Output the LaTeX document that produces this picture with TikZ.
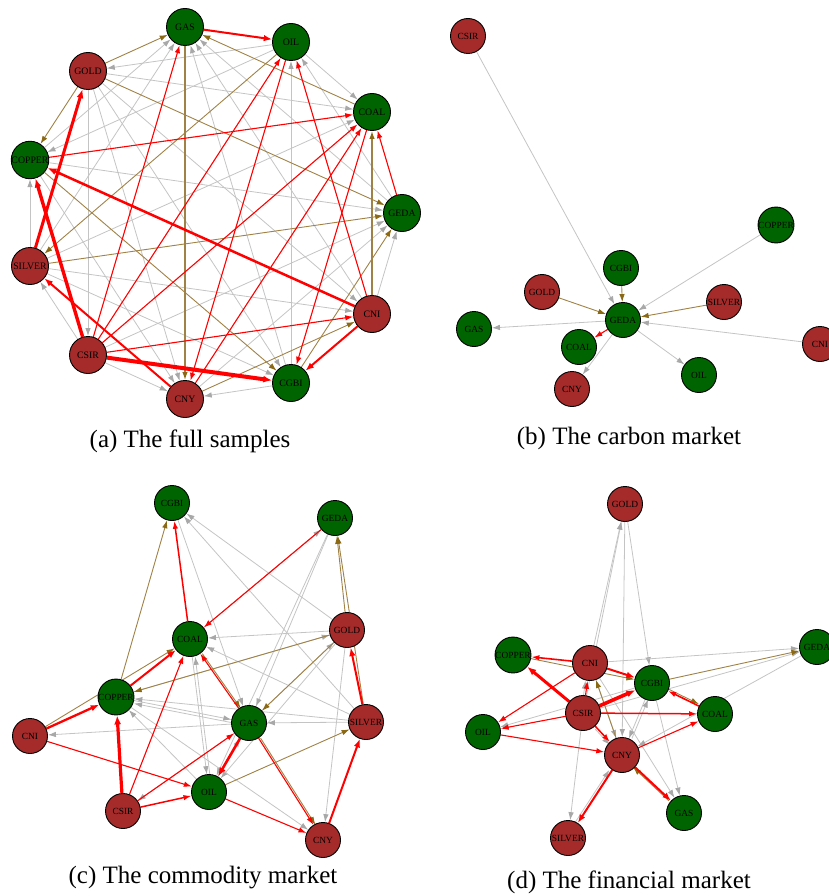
\documentclass[tikz,border=0pt]{standalone}
\usepackage{fontspec}
\setmainfont{Liberation Serif}
\usetikzlibrary{arrows.meta}
\definecolor{nred}{RGB}{165,42,42}
\definecolor{ngreen}{RGB}{0,100,0}
\definecolor{egray}{RGB}{196,196,196}
\definecolor{tgray}{RGB}{168,168,168}
\definecolor{ebrown}{RGB}{160,130,70}
\definecolor{tbrown}{RGB}{139,105,20}
\definecolor{ered}{RGB}{255,0,0}
\pgfdeclarelayer{lgray}
\pgfdeclarelayer{lbrown}
\pgfdeclarelayer{lred}
\pgfsetlayers{lgray,lbrown,lred,main}
\begin{document}
\begin{tikzpicture}[x=1pt,y=-1pt,
 nd/.style={circle,draw=black,line width=0.9pt,minimum size=35pt,inner sep=0pt,font=\fontsize{9.4}{10}\selectfont},
 rn/.style={nd,fill=nred},
 gn/.style={nd,fill=ngreen},
 big/.style={minimum size=37pt,font=\fontsize{9.8}{10}\selectfont},
 ge/.style={draw=egray,line width=0.8pt,-{Latex[length=8pt,width=5.5pt,color=tgray]}},
 be/.style={draw=ebrown,line width=0.9pt,-{Latex[length=8pt,width=5.5pt,color=tbrown]}},
 re/.style={draw=ered,line width=1.1pt,-{Latex[length=8pt,width=5.5pt]}},
 rm/.style={draw=ered,line width=2pt,-{Latex[length=8.5pt,width=6.5pt]}},
 rt/.style={draw=ered,line width=3pt,-{Latex[length=9pt,width=7pt]}},
 captxt/.style={font=\fontsize{25}{30}\selectfont,inner sep=0pt}
]
\useasboundingbox (0,0) rectangle (829,896);

% ---------------- panel (a)
\foreach \n/\x/\y/\c in {GAS/185/27/gn, OIL/291/42/gn, COAL/372/112/gn, GEDA/402/213/gn, CNI/372/314/rn, CGBI/291/383/gn, CNY/185/399/rn, CSIR/88/355/rn, SILVER/30/266/rn, COPPER/30/160/gn, GOLD/88/71/rn}
  \node[\c,big] (a\n) at (\x,\y) {\n};
\begin{pgfonlayer}{lgray}
\foreach \s/\t in {GEDA/GAS, CNI/GAS, CGBI/GAS, SILVER/GAS, COPPER/GAS, OIL/COAL, GEDA/OIL, CGBI/OIL, OIL/COPPER, OIL/GOLD, SILVER/COAL, GOLD/COAL, CNI/GEDA, CNY/GEDA, CSIR/GEDA, COPPER/GEDA, SILVER/CNI, GOLD/CNI, CGBI/CNY, SILVER/CGBI, GOLD/CGBI, CSIR/CNY, COPPER/CNY, GOLD/CNY, CSIR/SILVER, GOLD/CSIR, SILVER/COPPER}
  \draw[ge] (a\s) -- (a\t);
\end{pgfonlayer}
\begin{pgfonlayer}{lbrown}
\foreach \s/\t in {GOLD/GAS, COAL/GAS, GOLD/COPPER, OIL/SILVER, GOLD/GEDA, SILVER/GEDA, COPPER/CGBI, CGBI/GEDA, CNY/CNI}
  \draw[be] (a\s) -- (a\t);
\draw[be,line width=1.3pt] (aGAS) -- (aCNY);
\draw[be,line width=1.3pt] (aCNI) -- (aCOAL);
\end{pgfonlayer}
\begin{pgfonlayer}{lred}
\foreach \s/\t in {CSIR/GAS, CSIR/OIL, CSIR/COAL, CNY/COAL, COAL/CGBI, OIL/CNY, CNI/OIL, GEDA/COAL, COPPER/COAL, CSIR/CNI}
  \draw[re] (a\s) -- (a\t);
\foreach \s/\t in {GAS/OIL, CNY/SILVER, CNI/CGBI}
  \draw[rm] (a\s) -- (a\t);
\draw[rt,line width=2.5pt] (aCNI) -- (aCOPPER);
\draw[rt] (aSILVER) -- (aGOLD);
\draw[rt,line width=3.4pt] (aCSIR) -- (aCOPPER);
\draw[rt,line width=4pt] (aCSIR) -- (aCGBI);
\end{pgfonlayer}
\node[captxt] (capa) at (190,441) {(a) The full samples};

% ---------------- panel (b)
\foreach \n/\x/\y/\c in {CSIR/468/36/rn, COPPER/776/225/gn, CGBI/621/268/gn, GOLD/542/292/rn, SILVER/724/302/rn, GEDA/623/320/gn, GAS/474/329/gn, COAL/579/347/gn, CNI/820/344/rn, OIL/699/375/gn, CNY/572/389/rn}
  \node[\c] (b\n) at (\x,\y) {\n};
\begin{pgfonlayer}{lgray}
\foreach \s/\t in {CSIR/GEDA, COPPER/GEDA, CNI/GEDA, GEDA/GAS, GEDA/CNY, GEDA/OIL}
  \draw[ge] (b\s) -- (b\t);
\end{pgfonlayer}
\begin{pgfonlayer}{lbrown}
\foreach \s/\t in {CGBI/GEDA, GOLD/GEDA, SILVER/GEDA}
  \draw[be] (b\s) -- (b\t);
\end{pgfonlayer}
\begin{pgfonlayer}{lred}
\draw[re] (bGEDA) -- (bCOAL);
\end{pgfonlayer}
\node[captxt] (capb) at (629,438) {(b) The carbon market};

% ---------------- panel (c)
\foreach \n/\x/\y/\c in {CGBI/172/503/gn, GEDA/335/518/gn, GOLD/347/630/rn, COAL/190/639/gn, COPPER/116/697/gn, SILVER/366/722/rn, GAS/249/723/gn, CNI/30/736/rn, OIL/209/792/gn, CSIR/123/811/rn, CNY/323/840/rn}
  \node[\c] (c\n) at (\x,\y) {\n};
\begin{pgfonlayer}{lgray}
\foreach \s/\t in {COAL/GEDA, GEDA/GAS, GEDA/OIL, GOLD/CGBI, SILVER/CGBI, CGBI/GAS, GOLD/COAL, SILVER/COAL, COPPER/GOLD, GAS/GOLD, GOLD/OIL, COAL/OIL, OIL/GAS, GAS/CSIR, GOLD/CNY, SILVER/GAS, GAS/CNI, COPPER/GAS, SILVER/COPPER, OIL/COPPER, COPPER/CNY}
  \draw[ge] (c\s) -- (c\t);
\draw[ge,transform canvas={xshift=3pt}] (cOIL) -- (cCOAL);
\draw[ge,transform canvas={yshift=-3pt}] (cGAS) -- (cCOPPER);
\end{pgfonlayer}
\begin{pgfonlayer}{lbrown}
\foreach \s/\t in {COPPER/CGBI, GOLD/GEDA, SILVER/GEDA, GOLD/COPPER, CNI/COAL, GOLD/GAS, OIL/SILVER}
  \draw[be] (c\s) -- (c\t);
\draw[be,transform canvas={xshift=2pt}] (cCOAL) -- (cGAS);
\draw[be,transform canvas={xshift=2pt}] (cGAS) -- (cCNY);
\end{pgfonlayer}
\begin{pgfonlayer}{lred}
\foreach \s/\t in {GEDA/COAL, CSIR/COAL, GAS/COAL, CSIR/GAS, CNI/OIL, OIL/CNY, GAS/CNY}
  \draw[re] (c\s) -- (c\t);
\draw[re,line width=1.5pt] (cCOAL) -- (cCGBI);
\draw[re,line width=1.5pt] (cCSIR) -- (cOIL);
\foreach \s/\t in {COPPER/COAL, CNY/SILVER, SILVER/GOLD}
  \draw[rm] (c\s) -- (c\t);
\draw[rm,line width=2.3pt] (cCNI) -- (cCOPPER);
\draw[rt,line width=2.6pt] (cGAS) -- (cOIL);
\draw[rt,line width=3.2pt] (cCSIR) -- (cCOPPER);
\end{pgfonlayer}
\node[captxt] (capc) at (203,878) {(c) The commodity market};

% ---------------- panel (d)
\foreach \n/\x/\y/\c in {GOLD/625/504/rn, GEDA/817/647/gn, COPPER/513/655/gn, CNI/590/663/rn, CGBI/652/683/gn, CSIR/583/713/rn, COAL/715/714/gn, OIL/483/732/gn, CNY/622/755/rn, GAS/684/813/gn, SILVER/568/838/rn}
  \node[\c] (d\n) at (\x,\y) {\n};
\begin{pgfonlayer}{lgray}
\foreach \s/\t in {CNI/GOLD, CSIR/GOLD, GOLD/CGBI, GOLD/CNY, CGBI/OIL, CNI/CNY, CNI/GAS, CGBI/CNY, CGBI/GAS, GEDA/CNY, CSIR/SILVER, CNI/GEDA, CSIR/GEDA}
  \draw[ge] (d\s) -- (d\t);
\draw[ge,transform canvas={xshift=3pt}] (dCNY) -- (dCGBI);
\draw[ge,transform canvas={xshift=-2pt}] (dCSIR) -- (dCNI);
\draw[ge,transform canvas={yshift=-3pt}] (dCSIR) -- (dCNY);
\draw[ge,transform canvas={xshift=-3pt}] (dSILVER) -- (dCNY);
\end{pgfonlayer}
\begin{pgfonlayer}{lbrown}
\foreach \s/\t in {COPPER/CGBI, CNY/CNI, CGBI/GEDA}
  \draw[be] (d\s) -- (d\t);
\draw[be,transform canvas={yshift=2pt}] (dCGBI) -- (dCOAL);
\draw[be,transform canvas={xshift=-2pt}] (dGAS) -- (dCNY);
\end{pgfonlayer}
\begin{pgfonlayer}{lred}
\foreach \s/\t in {CNI/OIL, CSIR/OIL, CSIR/CNI, OIL/CNY, CNY/COAL}
  \draw[re] (d\s) -- (d\t);
\draw[re,line width=1.5pt] (dCSIR) -- (dCOAL);
\draw[re,line width=1.5pt] (dCSIR) -- (dCNY);
\draw[re,line width=1.6pt] (dCNI) -- (dCOPPER);
\draw[re,line width=1.6pt] (dCOAL) -- (dCGBI);
\foreach \s/\t in {CNI/CGBI, CNY/GAS, CNY/SILVER}
  \draw[rm] (d\s) -- (d\t);
\draw[rt] (dCSIR) -- (dCOPPER);
\draw[rt,line width=3.6pt] (dCSIR) -- (dCGBI);
\end{pgfonlayer}
\node[captxt] (capd) at (629,882) {(d) The financial market};
\end{tikzpicture}
\end{document}
